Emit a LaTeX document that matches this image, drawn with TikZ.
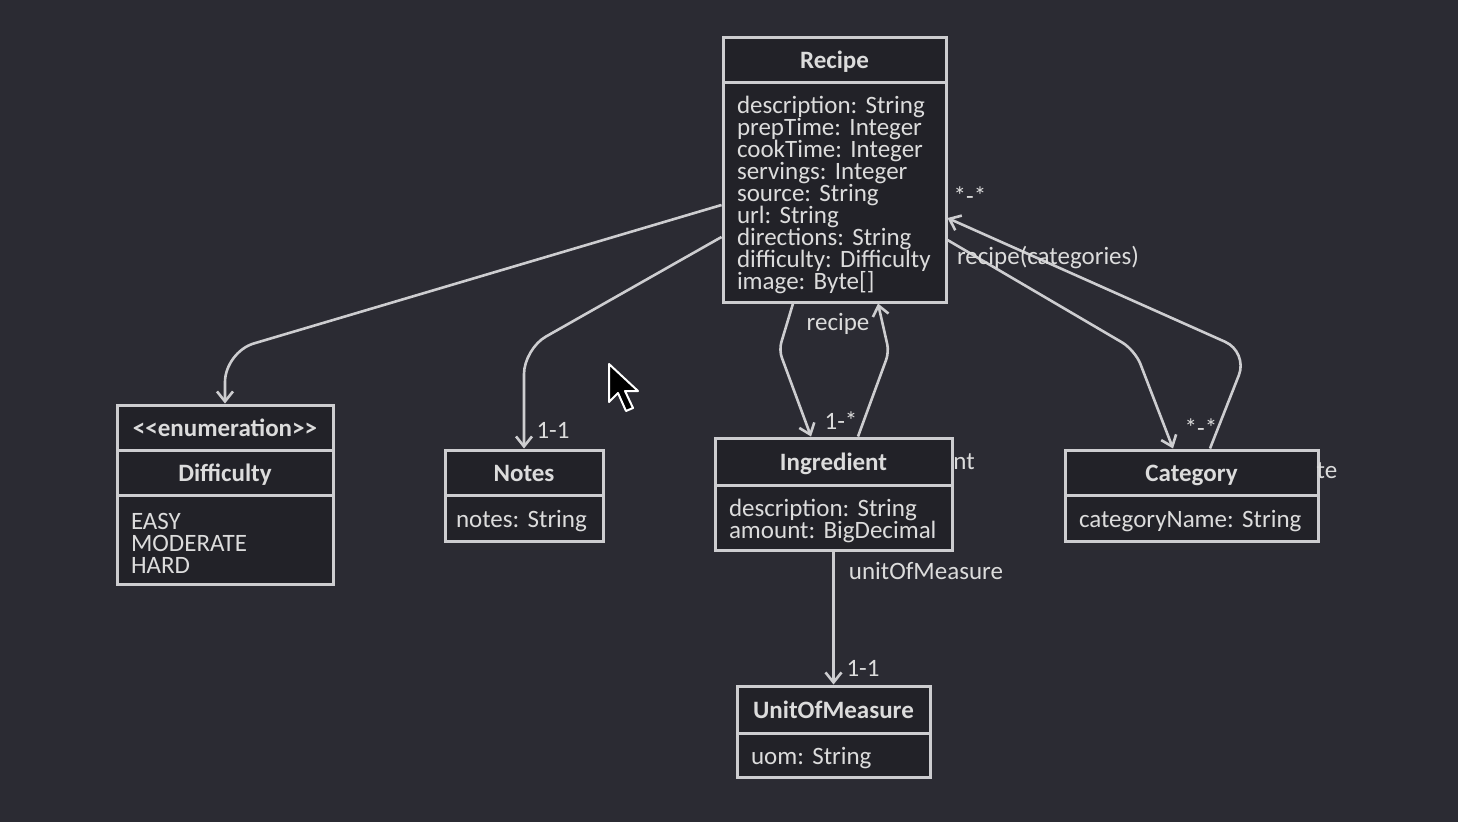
\documentclass[tikz,border=0pt]{standalone}
\usepackage{fontspec}
\usetikzlibrary{arrows.meta}
\newfontfamily\umlfont{Carlito}
\newcommand\umltext{\umlfont\frenchspacing\fontsize{25}{22}\selectfont\lineskiplimit=-50pt\relax}
\definecolor{bg}{HTML}{2B2B33}
\definecolor{boxfill}{HTML}{222228}
\definecolor{edge}{HTML}{CDCDD0}
\definecolor{txt}{HTML}{DCDCDC}

\begin{document}
\begin{tikzpicture}
  [x=1pt,y=-1pt,
   every node/.style={font=\umltext, text=txt},
   head/.style={draw=edge, line width=3pt, fill=boxfill, inner sep=0pt, text height=23pt, text depth=5pt, font=\umltext\bfseries},
   body/.style={draw=edge, line width=3pt, fill=boxfill, inner xsep=14pt, inner ysep=0pt, text height=24pt, align=left},
   assoc/.style={draw=edge, line width=2.6pt, -{Straight Barb[length=10pt,width=16pt]}},
   lbl/.style={inner sep=0pt}]

  \useasboundingbox (0,0) rectangle (1458,822);
  \fill[bg] (0,0) rectangle (1458,822);

  %%%%%%%%%%%%%%%%%%%%%% CLASSES %%%%%%%%%%%%%%%%%%%%%%

  \node[head, minimum width=223pt, minimum height=45pt] (recipe_head) at (834.5,59.5) {Recipe};
  \node[body, text width=195pt, minimum height=220pt] (recipe_body) at (834.5,192)
    {description: String\\prepTime: Integer\\cookTime: Integer\\servings: Integer\\source: String\\url: String\\directions: String\\difficulty: Difficulty\\image: Byte[]};

  \node[head, minimum width=216pt, minimum height=45pt] (diff_stereo) at (225,427.5) {<<enumeration>>};
  \node[head, minimum width=216pt, minimum height=45pt] (diff_head) at (225,472.5) {Difficulty};
  \node[body, text width=188pt, minimum height=89pt] (diff_body) at (225,539.5) {EASY\\MODERATE\\HARD};

  \node[head, minimum width=158pt, minimum height=45pt] (notes_head) at (524,472.5) {Notes};
  \node[body, inner xsep=11pt, text width=136pt, minimum height=46pt] (notes_body) at (524,518) {notes: String};

  \node[head, minimum width=237pt, minimum height=47pt] (ingr_head) at (833.5,461.5) {Ingredient};
  \node[body, text width=209pt, minimum height=65pt] (ingr_body) at (833.5,517.5) {description: String\\amount: BigDecimal};

  \node[head, minimum width=253pt, minimum height=45pt] (cat_head) at (1191.5,472.5) {Category};
  \node[body, text width=225pt, minimum height=46pt] (cat_body) at (1191.5,518) {categoryName: String};

  \node[head, minimum width=193pt, minimum height=47pt] (uom_head) at (833.5,709.5) {UnitOfMeasure};
  \node[body, text width=165pt, minimum height=44pt] (uom_body) at (833.5,755) {uom: String};

  %%%%%%%%%%%%%%%%%%%%%% ASSOCIATIONS %%%%%%%%%%%%%%%%%%%%%%

  \draw[assoc, rounded corners=30pt] ([yshift=-13pt]recipe_body.west) -- (225,352) -- (diff_stereo.north);
  \draw[assoc, rounded corners=25pt] ([yshift=-45pt]recipe_body.west) -- (524,349) -- (notes_head.north);
  \draw[assoc, rounded corners=8pt] ([xshift=-41.5pt]recipe_body.south) -- (779,350) -- ([xshift=-22.5pt]ingr_head.north);
  \draw[assoc, rounded corners=8pt] ([xshift=24.5pt]ingr_head.north) -- (889,352) -- ([xshift=43.5pt]recipe_body.south);
  \draw[assoc, rounded corners=15pt] ([yshift=-48pt]recipe_body.east) -- (1135,350) -- ([xshift=-18.5pt]cat_head.north);
  \draw[assoc, rounded corners=25pt] ([xshift=18.5pt]cat_head.north) -- (1248,352) -- ([yshift=-26pt]recipe_body.east);
  \draw[assoc] (ingr_body.south) -- (uom_head.north);

  \node[lbl] (notes_mult) at (553,430) {1-1};
  \node[lbl] (recipe_role) at (838,324) {recipe};
  \node[lbl] (ingr_mult) at (841,421) {1-*};
  \node[lbl] (recipe_mult) at (970,196) {*-*};
  \node[lbl] (cat_role) at (1048,258) {recipe(categories)};
  \node[lbl] (cat_mult) at (1201,428) {*-*};
  \node[lbl] (ingr_cut) at (964,462) {nt};
  \node[lbl] (cat_cut) at (1327,471) {te};
  \node[lbl] (uom_role) at (926,571) {unitOfMeasure};
  \node[lbl] (uom_mult) at (863,668) {1-1};

  % mouse pointer
  \filldraw[draw=white, fill=black, line width=2pt, line join=round] (609,364) -- (609,402) -- (618,393) -- (626,411) -- (633,408) -- (625,391) -- (638,391) -- cycle;

\end{tikzpicture}
\end{document}
